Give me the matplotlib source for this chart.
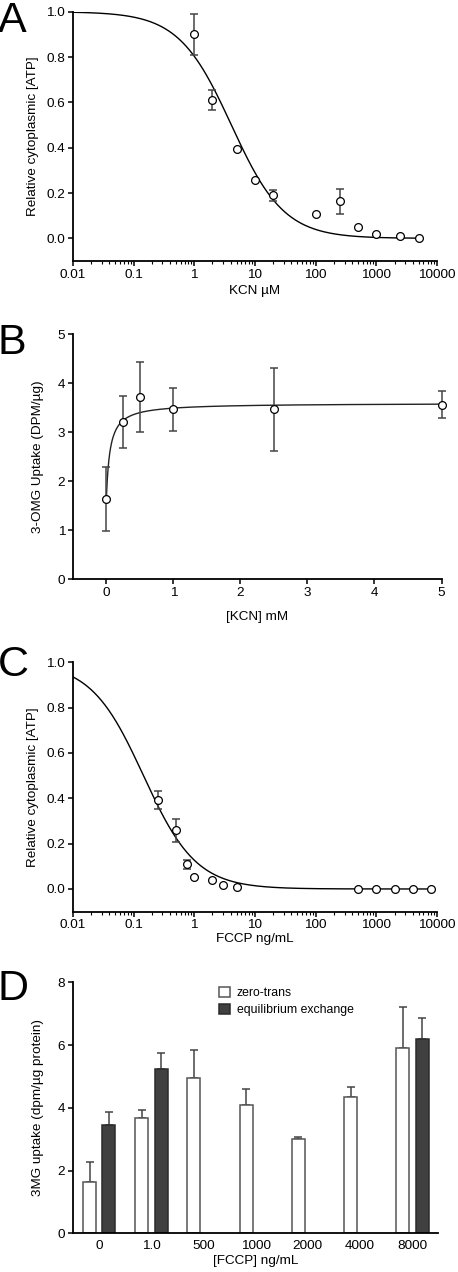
import matplotlib.pyplot as plt
import numpy as np

plt.rcParams['font.family'] = ['Liberation Sans', 'DejaVu Sans']
plt.rcParams['font.size'] = 9.7

# panel A: ATP vs KCN (uM)
kcn_um = [1, 2, 5, 10, 20, 100, 250, 500, 1000, 2500, 5000]
atp_a = [0.90, 0.61, 0.395, 0.257, 0.19, 0.109, 0.164, 0.049, 0.021, 0.012, 0.003]
err_a = [0.09, 0.045, 0, 0, 0.024, 0, 0.055, 0, 0, 0, 0]
fit_a = dict(top=1.0, bottom=0.0, ic50=4.1, hill=1.0)

# panel B: 3-OMG uptake vs KCN (mM)
kcn_mm = [0, 0.25, 0.5, 1, 2.5, 5]
omg_b = [1.64, 3.20, 3.71, 3.46, 3.46, 3.56]
err_b = [0.65, 0.53, 0.71, 0.43, 0.85, 0.27]
fit_b = dict(y0=1.63, span=1.96, k=0.055)

# panel C: ATP vs FCCP (ng/mL)
fccp = [0.25, 0.5, 0.75, 1, 2, 3, 5, 500, 1000, 2000, 4000, 8000]
atp_c = [0.392, 0.259, 0.108, 0.052, 0.038, 0.019, 0.009, 0, 0, 0, 0, 0]
err_c = [0.04, 0.05, 0.018, 0, 0, 0, 0, 0, 0, 0, 0, 0]
fit_c = dict(top=1.0, bottom=0.0, ic50=0.146, hill=1.0)

# panel D: bars
fccp_cats = ['0', '1.0', '500', '1000', '2000', '4000', '8000']
zero_trans = [1.64, 3.67, 4.96, 4.09, 2.99, 4.35, 5.90]
zero_trans_err = [0.64, 0.25, 0.87, 0.52, 0.09, 0.30, 1.31]
equil = [3.46, 5.24, np.nan, np.nan, np.nan, np.nan, 6.18]
equil_err = [0.39, 0.51, np.nan, np.nan, np.nan, np.nan, 0.69]


def hill(x, p):
    return p['bottom'] + (p['top'] - p['bottom']) / (1 + (x / p['ic50']) ** p['hill'])


def style(ax):
    for s in ('top', 'right'):
        ax.spines[s].set_visible(False)
    for s in ('left', 'bottom'):
        ax.spines[s].set_linewidth(1.3)
    ax.tick_params(width=1.1, length=3.5, labelsize=9.7, pad=2)
    ax.tick_params(which='minor', width=0.8, length=2)


def points(ax, x, y, err):
    x, y, err = np.array(x), np.array(y), np.array(err)
    m = err > 0
    ax.errorbar(x[m], y[m], yerr=err[m], fmt='none', ecolor='#444444',
                elinewidth=1.1, capsize=3, capthick=1.1, zorder=2, clip_on=False)
    ax.plot(x, y, 'o', ms=5.6, mfc='white', mec='black', mew=0.9, zorder=3, clip_on=False)


fig = plt.figure(figsize=(4.58, 12.72), dpi=100)

# A
ax = fig.add_axes([0.159, 0.7948, 0.795, 0.196])
xs = np.logspace(-2, np.log10(5000), 300)
ax.plot(xs, hill(xs, fit_a), color='black', lw=1.0, zorder=1)
points(ax, kcn_um, atp_a, err_a)
ax.set_xscale('log')
ax.set_xlim(0.01, 10000)
ax.set_ylim(-0.1, 1.0)
ax.set_yticks([0.0, 0.2, 0.4, 0.6, 0.8, 1.0])
ax.set_yticklabels(['0.0', '0.2', '0.4', '0.6', '0.8', '1.0'])
ax.set_xticks([0.01, 0.1, 1, 10, 100, 1000, 10000])
ax.set_xticklabels(['0.01', '0.1', '1', '10', '100', '1000', '10000'])
ax.set_xlabel('KCN µM', labelpad=3)
ax.set_ylabel('Relative cytoplasmic [ATP]', labelpad=5)
style(ax)

# B
ax = fig.add_axes([0.159, 0.5448, 0.805, 0.1926])
xs = np.linspace(0, 5, 400)
ax.plot(xs, fit_b['y0'] + fit_b['span'] * xs / (fit_b['k'] + xs), color='#222222', lw=1.0, zorder=1)
points(ax, kcn_mm, omg_b, err_b)
ax.set_xlim(-0.5, 5)
ax.set_ylim(0, 5)
ax.set_xticks([0, 1, 2, 3, 4, 5])
ax.set_yticks([0, 1, 2, 3, 4, 5])
ax.set_xlabel('[KCN] mM', labelpad=9)
ax.set_ylabel('3-OMG Uptake (DPM/µg)', labelpad=10)
style(ax)

# C
ax = fig.add_axes([0.159, 0.2833, 0.795, 0.196])
xs = np.logspace(-2, np.log10(8000), 300)
ax.plot(xs, hill(xs, fit_c), color='black', lw=1.0, zorder=1)
points(ax, fccp, atp_c, err_c)
ax.set_xscale('log')
ax.set_xlim(0.01, 10000)
ax.set_ylim(-0.1, 1.0)
ax.set_yticks([0.0, 0.2, 0.4, 0.6, 0.8, 1.0])
ax.set_yticklabels(['0.0', '0.2', '0.4', '0.6', '0.8', '1.0'])
ax.set_xticks([0.01, 0.1, 1, 10, 100, 1000, 10000])
ax.set_xticklabels(['0.01', '0.1', '1', '10', '100', '1000', '10000'])
ax.set_xlabel('FCCP ng/mL', labelpad=1)
ax.set_ylabel('Relative cytoplasmic [ATP]', labelpad=5)
style(ax)

# D
ax = fig.add_axes([0.159, 0.0304, 0.798, 0.1974])
pos = np.arange(len(fccp_cats))
w = 0.25
ax.bar(pos - 0.18, zero_trans, w, color='white', edgecolor='#555555', lw=1.1,
       label='zero-trans', zorder=2)
ax.bar(pos + 0.19, equil, w, color='#404040', edgecolor='#2a2a2a', lw=1.1,
       label='equilibrium exchange', zorder=2)
ax.errorbar(pos - 0.18, zero_trans, yerr=[np.zeros(len(pos)), zero_trans_err],
            fmt='none', ecolor='#444444', elinewidth=1.1, capsize=3, capthick=1.1, zorder=1)
ax.errorbar(pos + 0.19, equil, yerr=[np.zeros(len(pos)), equil_err],
            fmt='none', ecolor='#444444', elinewidth=1.1, capsize=3, capthick=1.1, zorder=1)
ax.set_xlim(-0.5, 6.5)
ax.set_ylim(0, 8)
ax.set_yticks([0, 2, 4, 6, 8])
ax.set_xticks(pos)
ax.set_xticklabels(fccp_cats)
ax.set_xlabel('[FCCP] ng/mL', labelpad=2)
ax.set_ylabel('3MG uptake (dpm/µg protein)', labelpad=10)
style(ax)
ax.tick_params(axis='x', length=0, pad=5)
ax.legend(loc='upper left', bbox_to_anchor=(0.37, 1.025), frameon=False, fontsize=8.8,
          handlelength=0.9, handleheight=0.9, handletextpad=0.55, labelspacing=0.35)

for letter, y in (('A', 0.999), ('B', 0.746), ('C', 0.493), ('D', 0.238)):
    fig.text(-0.005, y, letter, fontsize=31, va='top', ha='left')

fig.savefig('out.png', dpi=100)
